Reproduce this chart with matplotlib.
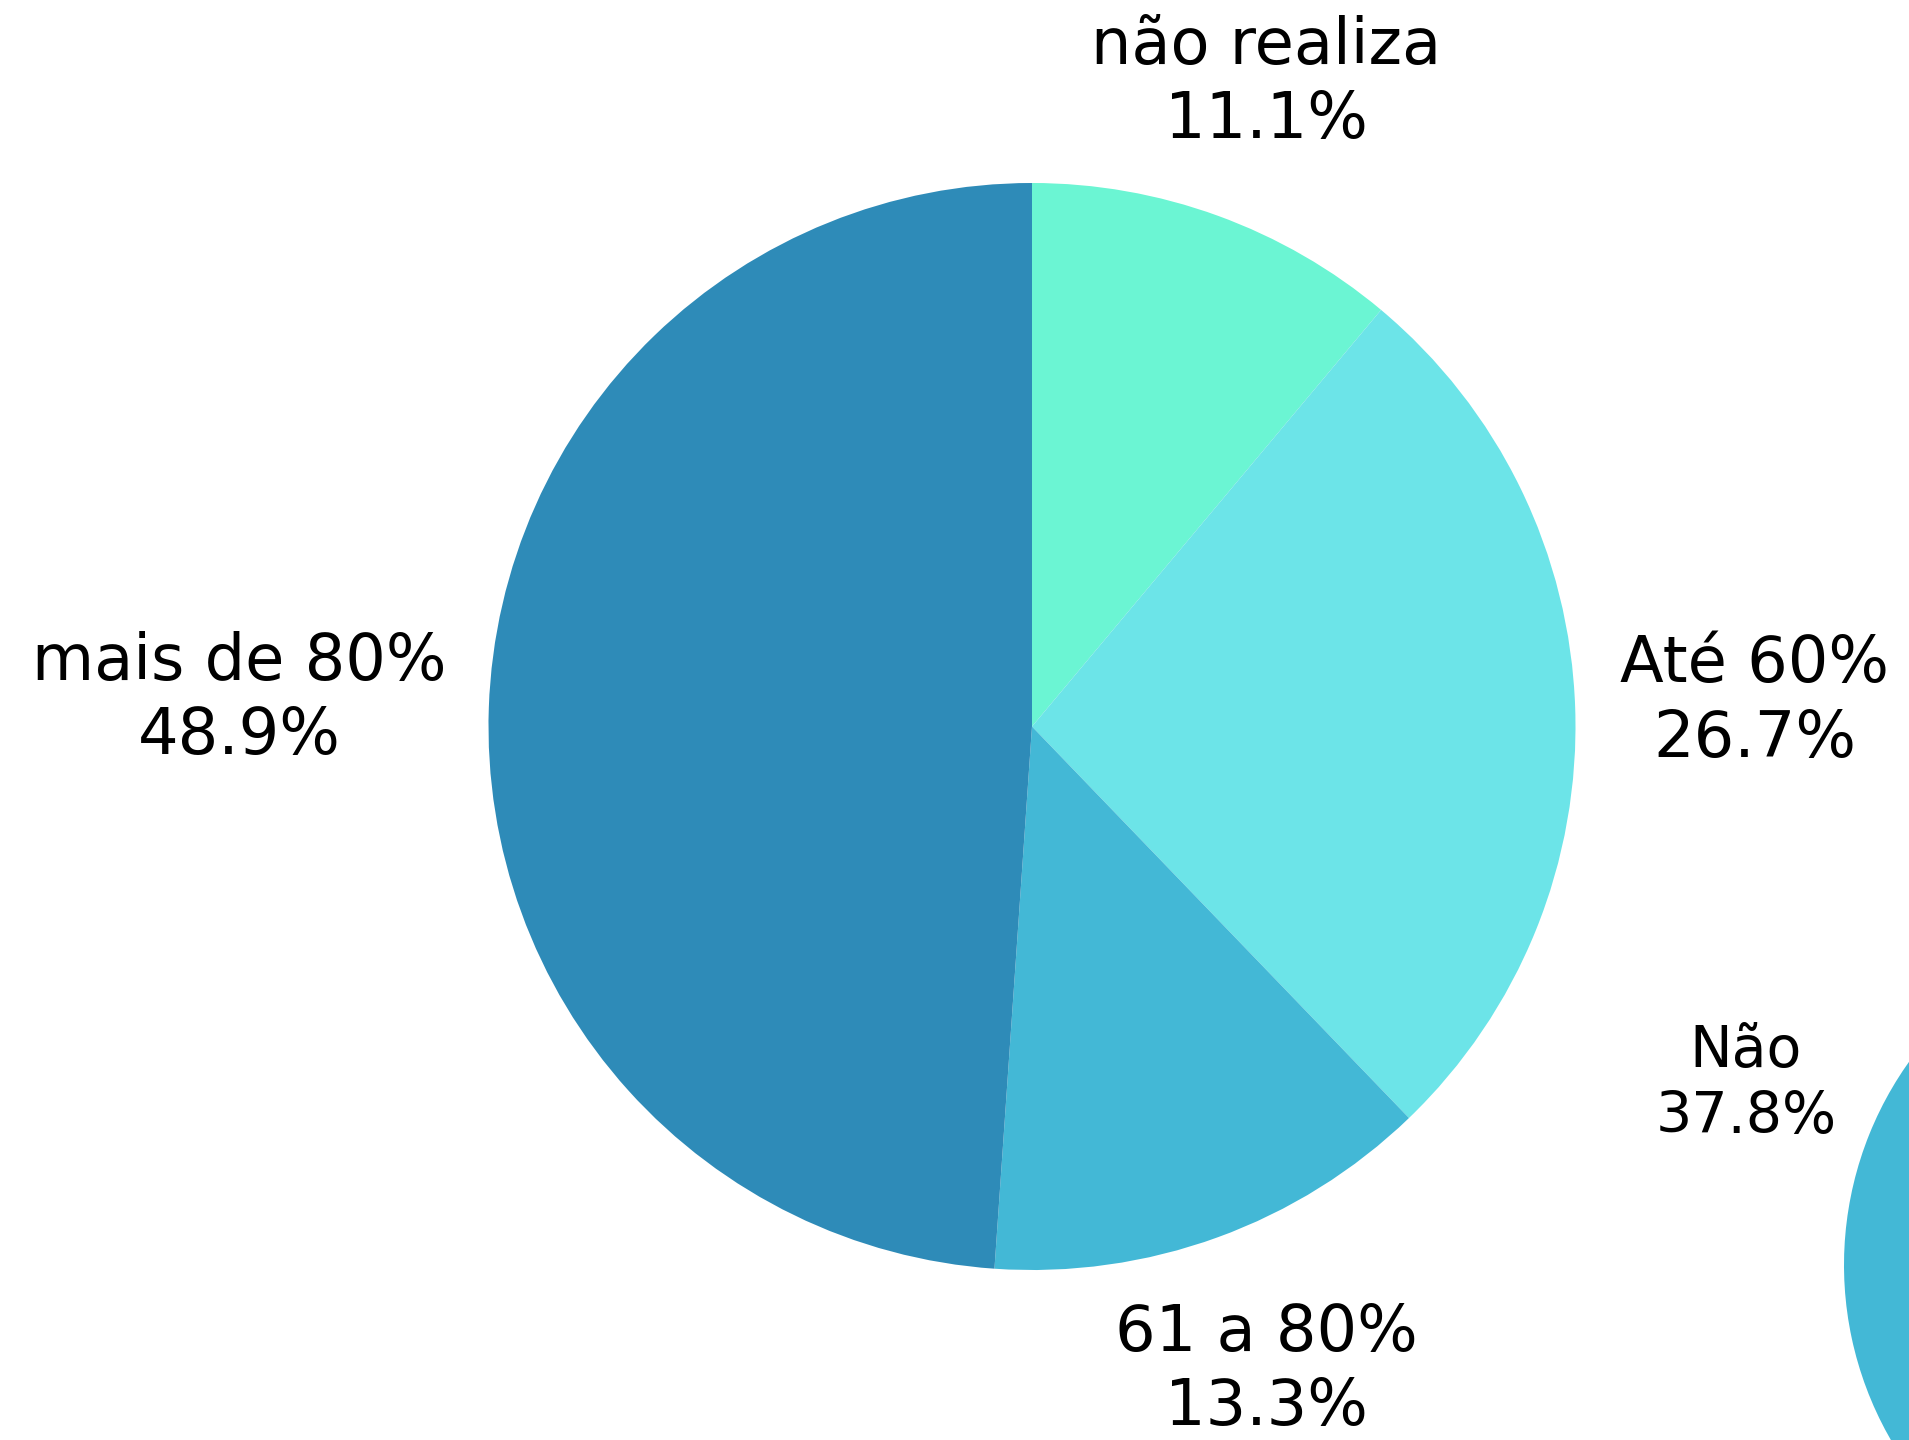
import numpy as np
import matplotlib
matplotlib.use("Agg")
import matplotlib.pyplot as plt

# Data
labels_main = ["não realiza", "Até 60%", "61 a 80%", "mais de 80%"]
values_main = [11.1, 26.7, 13.3, 48.9]
colors_main = ["#6BF5D3", "#6CE4E8", "#43B8D6", "#2E8BB8"]

labels_second = ["Sim", "Não"]
values_second = [62.2, 37.8]
colors_second = ["#2E8BB8", "#43B8D6"]

W, H = 1909, 1440

fig = plt.figure(figsize=(W / 100, H / 100), dpi=100)
ax = fig.add_axes([0, 0, 1, 1])


def draw_pie(values, labels, colors, center, radius, label_dist, fontsize):
    texts = ["{}\n{:.1f}%".format(l, v) for l, v in zip(labels, values)]
    wedges, label_texts = ax.pie(values, labels=texts, colors=colors,
                                 startangle=90, counterclock=False,
                                 center=center, radius=radius,
                                 wedgeprops=dict(linewidth=0),
                                 textprops=dict(fontsize=fontsize, color="black",
                                                linespacing=1.25))
    # put each label centred at its own distance on the wedge's mid angle
    for w, t, d in zip(wedges, label_texts, label_dist):
        ang = np.deg2rad((w.theta1 + w.theta2) / 2)
        x = center[0] + d * radius * np.cos(ang)
        y = center[1] + d * radius * np.sin(ang)
        t.set_position((x, y))
        t.set_horizontalalignment("center")
        t.set_verticalalignment("center")
        # labels that fall outside the picture are not shown
        if x > W:
            t.set_visible(False)


# main pie
draw_pie(values_main, labels_main, colors_main, (1032, H - 726.5), 543.5,
         [1.26, 1.33, 1.26, 1.46], 46)

# second pie, mostly outside the picture on the right
draw_pie(values_second, labels_second, colors_second, (2194, H - 1265), 350,
         [1.30, 1.38], 41)

ax.set_xlim(0, W)
ax.set_ylim(0, H)
ax.set_aspect("equal")
ax.axis("off")

fig.savefig("out.png", dpi=100)
